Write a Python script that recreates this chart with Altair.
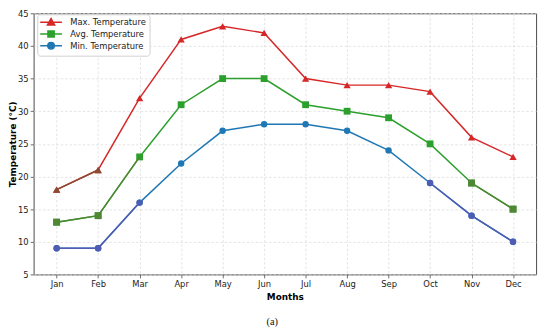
import altair as alt
import pandas as pd

# ---- data ----
months = ["Jan", "Feb", "Mar", "Apr", "May", "Jun", "Jul", "Aug", "Sep", "Oct", "Nov", "Dec"]
max_temp = [18, 21, 32, 41, 43, 42, 35, 34, 34, 33, 26, 23]
avg_temp = [13, 14, 23, 31, 35, 35, 31, 30, 29, 25, 19, 15]
min_temp = [9, 9, 16, 22, 27, 28, 28, 27, 24, 19, 14, 10]

series_names = ["Max. Temperature", "Avg. Temperature", "Min. Temperature"]
series_values = [max_temp, avg_temp, min_temp]
series_colors = ["#d62728", "#2ca02c", "#1f77b4"]
series_shapes = ["triangle-up", "square", "circle"]
series_sizes = [55, 48, 42]

# stretches of the lines that appear in a shifted tint in the reference
tint_line_runs = [
    ("Max. Temperature", ["Jan", "Feb"], "#8c4a32"),
    ("Avg. Temperature", ["Jan", "Feb", "Mar"], "#4f8734"),
    ("Avg. Temperature", ["Nov", "Dec"], "#4f8734"),
    ("Min. Temperature", ["Jan", "Feb", "Mar"], "#4e5cb4"),
    ("Min. Temperature", ["Oct", "Nov", "Dec"], "#4e5cb4"),
]
tint_point_months = {
    "Max. Temperature": (["Jan", "Feb"], "#8c4a32"),
    "Avg. Temperature": (["Jan", "Feb", "Nov", "Dec"], "#4f8734"),
    "Min. Temperature": (["Jan", "Feb", "Mar", "Oct", "Nov", "Dec"], "#4e5cb4"),
}

# legend symbols: short line with the marker in the middle
legend_paths = [
    "M-3.15,0H3.15M0,-1.05L1.05,0.8L-1.05,0.8Z",
    "M-3.15,0H3.15M-0.9,-0.9H0.9V0.9H-0.9Z",
    "M-3.15,0H3.15M0.95,0A0.95,0.95,0,1,1,-0.95,0A0.95,0.95,0,1,1,0.95,0Z",
]

# ---- tables ----
rows = []
for name, vals, col, shp, sz in zip(series_names, series_values, series_colors, series_shapes, series_sizes):
    for m, v in zip(months, vals):
        rows.append({"month": m, "value": v, "series": name, "col": col, "shp": shp, "sz": sz})
df = pd.DataFrame(rows)

lookup = {(r["series"], r["month"]): r for r in rows}
tl_rows = []
for k, (name, ms, tc) in enumerate(tint_line_runs):
    for m in ms:
        tl_rows.append({"month": m, "value": lookup[(name, m)]["value"], "run": k, "tcol": tc})
df_tl = pd.DataFrame(tl_rows)

tp_rows = []
for name, (ms, tc) in tint_point_months.items():
    for m in ms:
        r = lookup[(name, m)]
        tp_rows.append({"month": m, "value": r["value"], "tcol": tc, "shp": r["shp"], "sz": r["sz"]})
df_tp = pd.DataFrame(tp_rows)

# ---- encodings ----
x = alt.X("month:N", sort=months,
          scale=alt.Scale(type="point", padding=0.555),
          axis=alt.Axis(title="Months", labelAngle=0, grid=True, titlePadding=4))
y = alt.Y("value:Q",
          scale=alt.Scale(domain=[5, 45], nice=False, zero=False),
          axis=alt.Axis(title="Temperature (°C)", values=list(range(5, 50, 5)), grid=True, titleX=-16.5))

lines = alt.Chart(df).mark_line(strokeWidth=1.5).encode(
    x=x, y=y, color=alt.Color("col:N", scale=None), detail="series:N")
points = alt.Chart(df).mark_point(filled=True, opacity=1).encode(
    x=x, y=y, color=alt.Color("col:N", scale=None),
    shape=alt.Shape("shp:N", scale=None), size=alt.Size("sz:Q", scale=None))
tint_lines = alt.Chart(df_tl).mark_line(strokeWidth=1.5).encode(
    x=x, y=y, color=alt.Color("tcol:N", scale=None), detail="run:N")
tint_points = alt.Chart(df_tp).mark_point(filled=True, opacity=1).encode(
    x=x, y=y, color=alt.Color("tcol:N", scale=None),
    shape=alt.Shape("shp:N", scale=None), size=alt.Size("sz:Q", scale=None))

leg = alt.Legend(title=None, orient="none", legendX=3.7, legendY=1, padding=3.5,
                 symbolSize=49, symbolStrokeWidth=1.5, symbolOffset=6, labelOffset=15,
                 rowPadding=-1, labelFontSize=8.5, labelFont="DejaVu Sans", labelColor="#222",
                 strokeColor="#d0d0d0", fillColor="rgba(255,255,255,0.85)", cornerRadius=3,
                 symbolOpacity=1)
legend_layer = alt.Chart(df).mark_point(filled=True, opacity=0, strokeWidth=1.5).encode(
    x=x, y=y,
    fill=alt.Fill("series:N", scale=alt.Scale(domain=series_names, range=series_colors), legend=leg),
    stroke=alt.Stroke("series:N", scale=alt.Scale(domain=series_names, range=series_colors), legend=leg),
    shape=alt.Shape("series:N", scale=alt.Scale(domain=series_names, range=legend_paths), legend=leg),
)

chart = alt.layer(lines, points, tint_lines, tint_points, legend_layer).properties(
    width=510, height=265,
    autosize=alt.AutoSizeParams(type="none"),
    padding={"left": 26, "top": 3, "right": 6, "bottom": 52},
    title=alt.Title("(a)", orient="bottom", font="Liberation Serif", fontSize=10.5,
                    fontWeight="normal", color="#111", offset=16, frame="bounds", anchor="middle"),
).configure_view(
    stroke="#4a4a4a", strokeWidth=1
).configure_axis(
    domain=False, tickColor="#4a4a4a", tickSize=3.5, tickWidth=0.8,
    labelFont="DejaVu Sans", labelFontSize=8.5, labelColor="#222", labelPadding=2,
    titleFont="DejaVu Sans", titleFontSize=9, titleFontWeight="bold", titleColor="#000",
    gridColor="#dcdcdc", gridDash=[2.5, 2], gridWidth=0.8,
)

chart.save("out.html", embed_options={"renderer": "svg", "actions": False})
